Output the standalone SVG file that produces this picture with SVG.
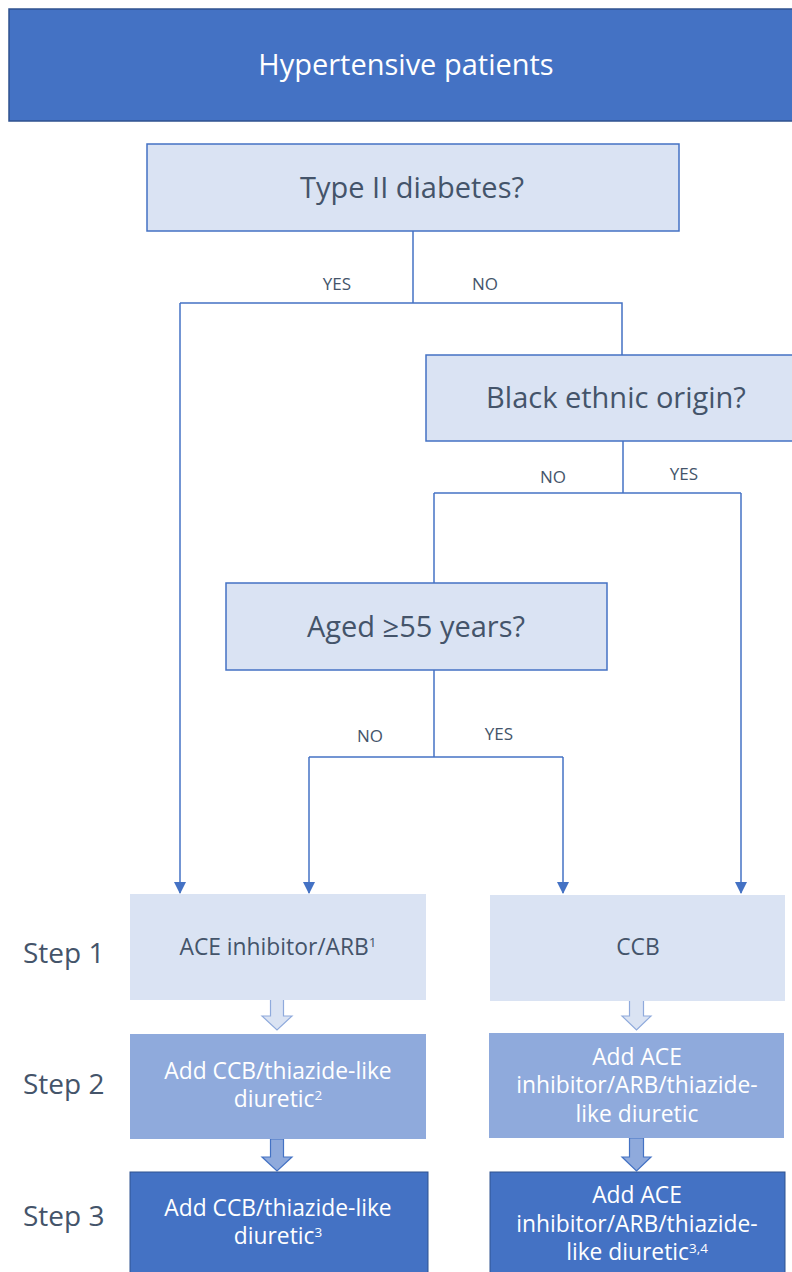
<svg xmlns="http://www.w3.org/2000/svg" width="792" height="1272" viewBox="0 0 792 1272">
<style>
text{font-family:"Open Sans","Noto Sans","Liberation Sans",sans-serif;}
.head{font-size:29px;fill:#44546A;text-anchor:middle;}
.q{fill:#DAE3F3;stroke:#4472C4;stroke-width:1.5;}
.lbl{font-size:17px;fill:#44546A;text-anchor:middle;}
.step{font-size:28px;fill:#44546A;}
.body{font-size:22.8px;text-anchor:middle;}
.dk{fill:#44546A;}
.wt{fill:#FFFFFF;}
.con{fill:none;stroke:#4472C4;stroke-width:1.5;}
.sup{font-size:13.5px;}
</style>
<defs>
<marker id="ah" markerUnits="userSpaceOnUse" markerWidth="12" markerHeight="12" viewBox="0 0 12 12" refX="11" refY="6" orient="auto">
<path d="M0,0 L12,6 L0,12 Z" fill="#4472C4"/>
</marker>
</defs>
<g id="header">
<rect x="9" y="9" width="800" height="112" fill="#4472C4" stroke="#2F528F" stroke-width="1.5"/>
<text class="head" x="406" y="75" style="fill:#FFFFFF">Hypertensive patients</text>
</g>
<g id="q-diabetes">
<rect class="q" x="147" y="144" width="532" height="87"/>
<text class="head" x="412" y="198">Type II diabetes?</text>
</g>
<g id="q-black">
<rect class="q" x="426" y="355" width="380" height="86"/>
<text class="head" x="616" y="408">Black ethnic origin?</text>
</g>
<g id="q-aged">
<rect class="q" x="226" y="583" width="381" height="87"/>
<text class="head" x="416" y="637">Aged ≥55 years?</text>
</g>
<g id="connectors">
<path class="con" d="M413,231 V303"/>
<path class="con" d="M180,303 H622 V355"/>
<path class="con" d="M180,303 V893" marker-end="url(#ah)"/>
<path class="con" d="M623,441 V493"/>
<path class="con" d="M434,493 H741"/>
<path class="con" d="M434,493 V583"/>
<path class="con" d="M741,493 V893" marker-end="url(#ah)"/>
<path class="con" d="M434,670 V757"/>
<path class="con" d="M309,757 H563"/>
<path class="con" d="M309,757 V893" marker-end="url(#ah)"/>
<path class="con" d="M563,757 V893" marker-end="url(#ah)"/>
<text class="lbl" x="337" y="290">YES</text>
<text class="lbl" x="485" y="290">NO</text>
<text class="lbl" x="553" y="483">NO</text>
<text class="lbl" x="684" y="480">YES</text>
<text class="lbl" x="370" y="742">NO</text>
<text class="lbl" x="499" y="740">YES</text>
<path d="M270.5,999 H283.5 V1016 H292 L277,1030 L262,1016 H270.5 Z" fill="#DAE3F3" stroke="#8FAADC" stroke-width="1.2"/>
<path d="M629.5,1000 H643.5 V1016 H651 L636.5,1030 L622,1016 H629.5 Z" fill="#DAE3F3" stroke="#8FAADC" stroke-width="1.2"/>
<path d="M270.5,1139 H283.5 V1157 H292 L277,1171 L262,1157 H270.5 Z" fill="#8FAADC" stroke="#4472C4" stroke-width="1.2"/>
<path d="M629.5,1138 H643.5 V1157 H651 L636.5,1171 L622,1157 H629.5 Z" fill="#8FAADC" stroke="#4472C4" stroke-width="1.2"/>
</g>
<g id="step-labels">
<text class="step" x="23" y="963">Step 1</text>
<text class="step" x="23" y="1094">Step 2</text>
<text class="step" x="23" y="1226">Step 3</text>
</g>
<g id="s1-ace">
<rect x="130" y="894" width="296" height="106" fill="#DAE3F3"/>
<text class="body dk" x="278" y="955">ACE inhibitor/ARB<tspan class="sup" dy="-8">1</tspan></text>
</g>
<g id="s1-ccb">
<rect x="490" y="895" width="295" height="106" fill="#DAE3F3"/>
<text class="body dk" x="638" y="955">CCB</text>
</g>
<g id="s2-left">
<rect x="130" y="1034" width="296" height="105" fill="#8FAADC"/>
<text class="body wt"><tspan x="278" y="1079">Add CCB/thiazide-like</tspan><tspan x="278" y="1107">diuretic</tspan><tspan class="sup" dy="-7">2</tspan></text>
</g>
<g id="s2-right">
<rect x="489" y="1033" width="295" height="105" fill="#8FAADC"/>
<text class="body wt"><tspan x="637" y="1065">Add ACE</tspan><tspan x="637" y="1093">inhibitor/ARB/thiazide-</tspan><tspan x="637" y="1122">like diuretic</tspan></text>
</g>
<g id="s3-left">
<rect x="130" y="1172" width="298" height="110" fill="#4472C4" stroke="#2F528F" stroke-width="1"/>
<text class="body wt"><tspan x="278" y="1216">Add CCB/thiazide-like</tspan><tspan x="278" y="1244">diuretic</tspan><tspan class="sup" dy="-7">3</tspan></text>
</g>
<g id="s3-right">
<rect x="490" y="1172" width="295" height="110" fill="#4472C4" stroke="#2F528F" stroke-width="1"/>
<text class="body wt"><tspan x="637" y="1203">Add ACE</tspan><tspan x="637" y="1232">inhibitor/ARB/thiazide-</tspan><tspan x="637" y="1260">like diuretic</tspan><tspan class="sup" dy="-7">3,4</tspan></text>
</g>
</svg>
